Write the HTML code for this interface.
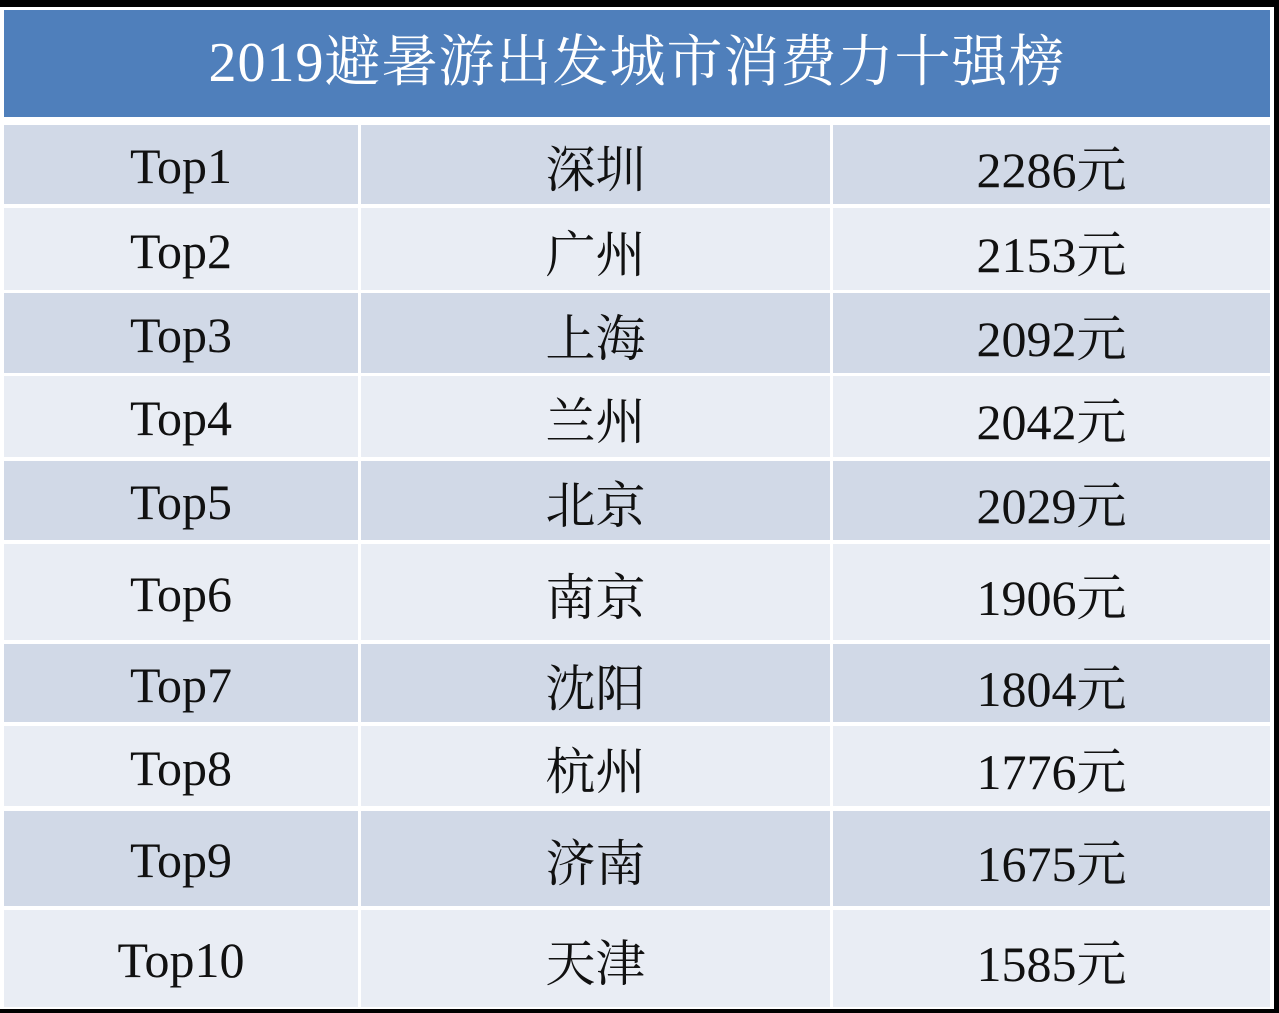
<!DOCTYPE html>
<html><head><meta charset="utf-8"><style>
body{margin:0;width:1279px;height:1013px;background:#000;position:relative;overflow:hidden;font-family:"Liberation Serif","Noto Serif CJK SC",serif}
#w{position:absolute;left:0;top:7px;width:1274px;height:1002px;background:#fff}
.c{position:absolute;display:flex;align-items:center;justify-content:center;font-size:50px;color:#111;padding-top:3px;box-sizing:border-box}
.h{background:#4f7fbb;color:#fff;font-size:56px;letter-spacing:1px;padding:0 0 12px 0}
.d{background:#d1d9e7}.l{background:#e9edf4}
</style></head><body><div id="w"></div>
<div class="c h" style="left:4px;top:10px;width:1266px;height:107px">2019避暑游出发城市消费力十强榜</div>
<div id="rows"></div>
<script>
var r=[[125,204],[208,290],[293,373],[376,457],[461,540],[544,640],[644,722],[726,806],[811,906],[910,1007]];
var d=[["Top1","深圳","2286元"],["Top2","广州","2153元"],["Top3","上海","2092元"],["Top4","兰州","2042元"],["Top5","北京","2029元"],["Top6","南京","1906元"],["Top7","沈阳","1804元"],["Top8","杭州","1776元"],["Top9","济南","1675元"],["Top10","天津","1585元"]];
var cols=[[4,358],[361,830],[833,1270]],h="";
r.forEach(function(y,i){var cl=(i==0||i==2||i==4||i==6||i==8)?"d":"l";
cols.forEach(function(c,j){h+='<div class="c '+cl+'" style="left:'+c[0]+'px;top:'+y[0]+'px;width:'+(c[1]-c[0])+'px;height:'+(y[1]-y[0])+'px">'+d[i][j]+'</div>';});});
document.getElementById("rows").innerHTML=h;
</script></body></html>
